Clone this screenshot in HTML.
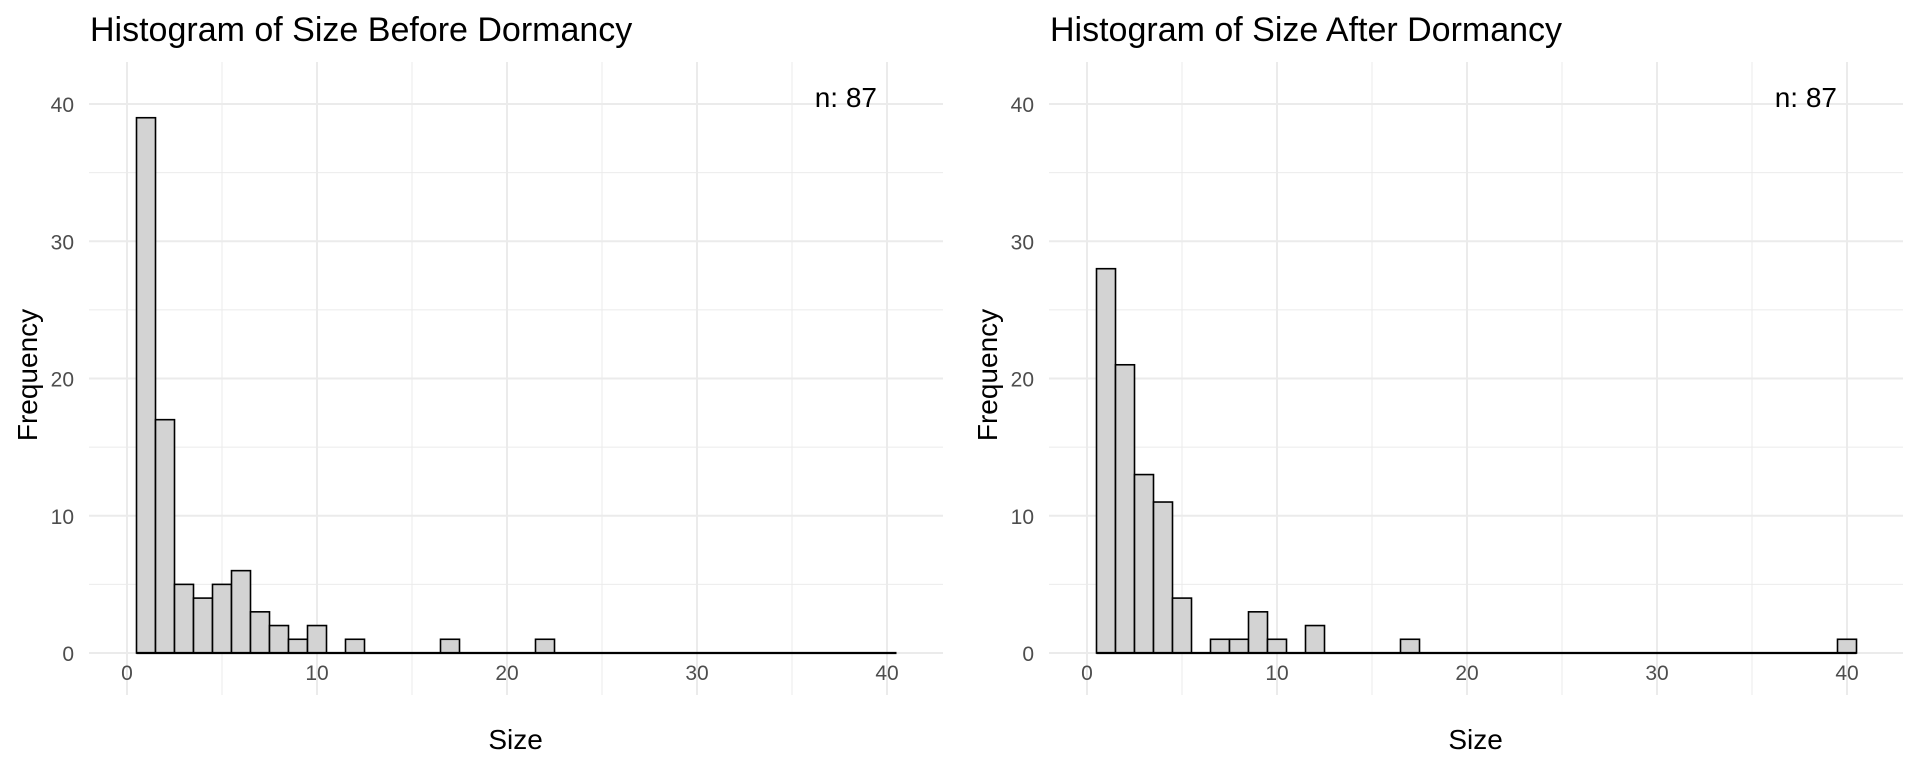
<!DOCTYPE html>
<html><head><meta charset="utf-8"><style>
body{margin:0;background:#fff;}
svg text{font-family:"Liberation Sans",Arial,sans-serif;}
</style></head><body>
<svg id="chart" width="1920" height="768" xmlns="http://www.w3.org/2000/svg"></svg>
<script>
const binCenters = [1,2,3,4,5,6,7,8,9,10,11,12,13,14,15,16,17,18,19,20,21,22,23,24,25,26,27,28,29,30,31,32,33,34,35,36,37,38,39,40];
const beforeCounts = [39,17,5,4,5,6,3,2,1,2,0,1,0,0,0,0,1,0,0,0,0,1,0,0,0,0,0,0,0,0,0,0,0,0,0,0,0,0,0,0];
const afterCounts = [28,21,13,11,4,0,1,1,3,1,0,2,0,0,0,0,1,0,0,0,0,0,0,0,0,0,0,0,0,0,0,0,0,0,0,0,0,0,0,1];
const xTicks = [0,10,20,30,40];
const xMinor = [5,15,25,35];
const yTicks = [0,10,20,30,40];
const yMinor = [5,15,25,35];
const titles = ["Histogram of Size Before Dormancy","Histogram of Size After Dormancy"];
const nLabel = "n: 87";

const svg = document.getElementById('chart');
const NS = 'http://www.w3.org/2000/svg';
function mk(tag, attrs, parent){const e=document.createElementNS(NS,tag);for(const k in attrs)e.setAttribute(k,attrs[k]);(parent||svg).appendChild(e);return e;}

function panel(offset, counts, title, idx){
  const g = mk('g',{});
  
  
  const X = v => 127 + offset + v*19;
  const Y = v => 653 - v*13.725;
  const left = 89+offset, right = 943+offset, top = 62, bottom = 695;
  xMinor.forEach(v=>{const l=mk('line',{x1:X(v),x2:X(v),y1:top,y2:bottom,stroke:'#ebebeb','stroke-width':1},g);
    
    });
  yMinor.forEach(v=>{const l=mk('line',{x1:left,x2:right,y1:Y(v),y2:Y(v),stroke:'#ebebeb','stroke-width':1},g);
    
    });
  xTicks.forEach(v=>{const l=mk('line',{x1:X(v),x2:X(v),y1:top,y2:bottom,stroke:'#ebebeb','stroke-width':2},g);
    
    
    const t=mk('text',{x:X(v),y:680,'text-anchor':'middle','font-size':21,fill:'#4d4d4d'},g);t.textContent=v;
    
    });
  yTicks.forEach(v=>{const l=mk('line',{x1:left,x2:right,y1:Y(v),y2:Y(v),stroke:'#ebebeb','stroke-width':2},g);
    
    
    const t=mk('text',{x:74+offset,y:Y(v)+8,'text-anchor':'end','font-size':21,fill:'#4d4d4d'},g);t.textContent=v;
    
    });
  binCenters.forEach((c,i)=>{
    const h = counts[i];
    if(h>0){
      const r = mk('rect',{x:X(c-0.5),y:Y(h),width:X(c+0.5)-X(c-0.5),height:Y(0)-Y(h),fill:'#d3d3d3',stroke:'#000','stroke-width':1.6},g);
      
      
    }
  });
  const base=mk('line',{x1:X(binCenters[0]-0.5),x2:X(binCenters[binCenters.length-1]+0.5),y1:Y(0),y2:Y(0),stroke:'#000','stroke-width':2.2},g);
  
  
  const tt=mk('text',{x:90+offset,y:41,'font-size':34,fill:'#000'},g);tt.textContent=title;
  
  
  const n=mk('text',{x:877+offset,y:107,'text-anchor':'end','font-size':28,fill:'#000'},g);n.textContent=nLabel;
  
  
  const xt=mk('text',{x:(X(-2)+X(42.9))/2,y:749,'text-anchor':'middle','font-size':28,fill:'#000'},g);xt.textContent='Size';
  
  
  const yt=mk('text',{x:0,y:0,'text-anchor':'middle','font-size':28,fill:'#000',transform:`translate(${37+offset},375) rotate(-90)`},g);yt.textContent='Frequency';
  
  
}
panel(0, beforeCounts, titles[0], 0);
panel(960, afterCounts, titles[1], 1);
</script>
</body></html>
